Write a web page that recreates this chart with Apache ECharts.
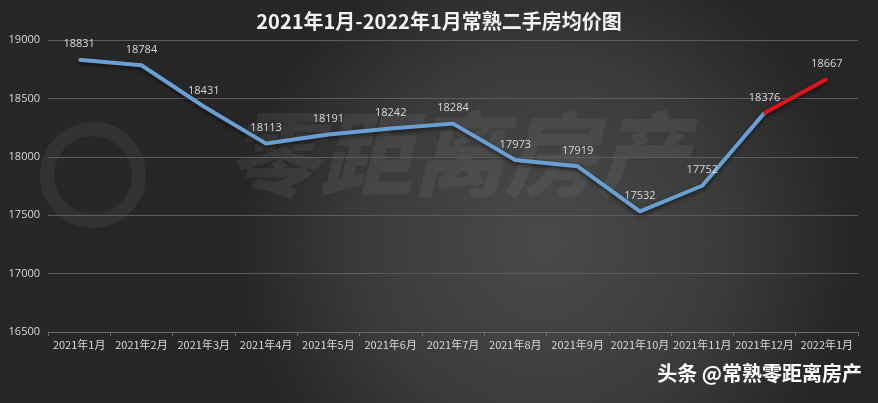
<!DOCTYPE html>
<html><head><meta charset="utf-8">
<script src="https://cdn.jsdelivr.net/npm/echarts@6/dist/echarts.min.js"></script>
<style>html,body{margin:0;padding:0;background:#333;}#c{width:878px;height:403px;}</style>
</head><body><div id="c"></div>
<script>
var categories = ['2021年1月','2021年2月','2021年3月','2021年4月','2021年5月','2021年6月','2021年7月','2021年8月','2021年9月','2021年10月','2021年11月','2021年12月','2022年1月'];
var prices = [18831, 18784, 18431, 18113, 18191, 18242, 18284, 17973, 17919, 17532, 17752, 18376, 18667];
var yTicks = [16500, 17000, 17500, 18000, 18500, 19000];
var splitIndex = 11;

var blueData = prices.map(function(v,i){ return i <= splitIndex ? v : null; });
var redData = prices.map(function(v,i){ return i >= splitIndex ? v : null; });

var chart = echarts.init(document.getElementById('c'));
chart.setOption({
  animation: false,
  backgroundColor: {
    type: 'radial', x: 0.62, y: 0.6, r: 0.75,
    colorStops: [{offset:0,color:'#4a4a4a'},{offset:0.6,color:'#3b3b3b'},{offset:1,color:'#272727'}]
  },
  title: {
    text: '2021年1月-2022年1月常熟二手房均价图',
    left: 'center', top: 6,
    textStyle: {color:'#f2f2f2', fontSize:20, fontWeight:'bold', fontFamily:'"Noto Sans CJK SC", sans-serif'}
  },
  graphic: [
    {type:'text', left: 228, top: 108, z: 0, silent: true,
     style:{text:'零距离房产', fill:'rgba(150,150,150,0.13)', font:'italic 900 92px "Noto Sans CJK SC"'}},
    {type:'circle', left: 40, top: 122, z: 0, silent:true, shape:{r:46},
     style:{fill:'none', stroke:'rgba(150,150,150,0.1)', lineWidth:14}},
    {type:'text', right: 16, top: 363, z: 10,
     style:{text:'头条 @常熟零距离房产', fill:'#ffffff', font:'bold 20px "Noto Sans CJK SC"',
            shadowColor:'rgba(0,0,0,0.8)', shadowBlur:3, shadowOffsetX:1, shadowOffsetY:1}}
  ],
  grid: {left: 48, right: 20, top: 40, bottom: 71},
  xAxis: {
    type: 'category', data: categories, boundaryGap: true,
    axisLine: {lineStyle:{color:'#6a6a6a'}},
    axisTick: {show:true, length:4, lineStyle:{color:'#6a6a6a'}},
    axisLabel: {color:'#d9d9d9', fontSize:11, margin:7, interval:0, fontFamily:'"Noto Sans CJK SC", sans-serif'}
  },
  yAxis: {
    type: 'value', min: yTicks[0], max: yTicks[yTicks.length-1], interval: 500,
    axisLine: {show:false}, axisTick: {show:false},
    axisLabel: {color:'#d9d9d9', fontSize:11, margin:8, fontFamily:'"Open Sans", sans-serif',
                formatter:function(v){ return String(v); }},
    splitLine: {lineStyle:{color:'#5c5c5c', width:1}}
  },
  series: [
    {type:'line', data: blueData, symbol:'circle', symbolSize:2, showSymbol:true, connectNulls:false, z:3,
     itemStyle:{color:'#6a9fd4'},
     lineStyle:{color:'#6a9fd4', width:4, shadowColor:'rgba(0,0,0,0.6)', shadowBlur:4, shadowOffsetY:2},
     label:{show:true, position:'top', distance:9, color:'#d9d9d9', fontSize:11, fontFamily:'"Open Sans", sans-serif'},
     emphasis:{disabled:true}
    },
    {type:'line', data: redData, symbol:'circle', symbolSize:2, showSymbol:true, z:4,
     itemStyle:{color:'#e0141e'},
     lineStyle:{color:'#e0141e', width:4, shadowColor:'rgba(0,0,0,0.6)', shadowBlur:4, shadowOffsetY:2},
     label:{show:true, position:'top', distance:9, color:'#d9d9d9', fontSize:11, fontFamily:'"Open Sans", sans-serif',
            formatter:function(p){ return p.dataIndex === prices.length-1 ? String(p.value) : ''; }},
     emphasis:{disabled:true}
    }
  ]
});
</script></body></html>
